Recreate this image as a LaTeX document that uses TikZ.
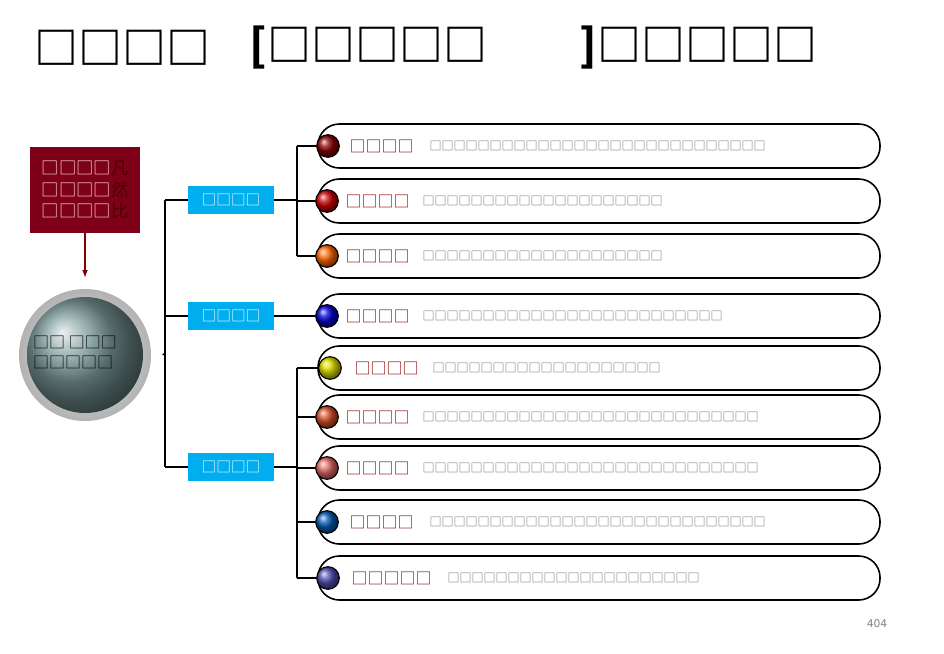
\documentclass[tikz,border=0pt]{standalone}
\usepackage{fontspec}
\setmainfont{DejaVu Sans}
\newfontfamily\cjk{Noto Sans CJK SC}
\definecolor{sky}{HTML}{00AEEF}
\begin{document}
\begin{tikzpicture}[x=0.75pt,y=-0.75pt,
 pill/.style={draw=black,line width=1.2pt,fill=white,rounded corners=16pt},
 ball/.style={circle,draw=black,line width=0.8pt,minimum size=17pt,inner sep=0},
 lab/.style={font=\cjk\fontsize{12}{12}\selectfont,text=red!55!black,anchor=west},
 desc/.style={font=\cjk\fontsize{9}{9}\selectfont,text=gray!80!black,anchor=west},
 bbox/.style={fill=sky,text=white,minimum width=64pt,minimum height=21pt,font=\cjk\fontsize{11}{11}\selectfont,inner sep=0},
 ln/.style={line width=0.9pt}]
\useasboundingbox (0,0) rectangle (944,653);
\node[font=\cjk\fontsize{33}{33}\selectfont\bfseries,anchor=west] (t1) at (30,48) {□□□□};
\node[font=\cjk\fontsize{33}{33}\selectfont\bfseries,anchor=west] (t2) at (245,48) {[□□□□□};
\node[font=\cjk\fontsize{33}{33}\selectfont\bfseries,anchor=west] (t3) at (575,48) {]□□□□□};
% left
\node[fill=red!55!black!90!blue,minimum width=82pt,minimum height=64pt,inner sep=0] (rb) at (85,190) {};
\node[font=\cjk\fontsize{13}{16}\selectfont,align=left,text=pink!70!white] at (85,190) {□□□□\textcolor{red!30!black}{凡}\\□□□□\textcolor{red!30!black}{然}\\□□□□\textcolor{red!30!black}{比}};
\shade[inner color=gray!15,outer color=gray!60] (85,355) circle (66);
\shade[ball color=gray!70!teal!80!white] (85,355) circle (58);
\node[circle,minimum size=116pt,inner sep=0] (c) at (85,355) {};
\node[font=\cjk\fontsize{12}{15}\selectfont,align=left] at (75,352) {□□ □□□\\□□□□□};
\draw[red!50!black,ln,-latex] (rb.south) -- (c.north);
\node[bbox] (b1) at (231,200) {□□□□};
\node[bbox] (b2) at (231,316) {□□□□};
\node[bbox] (b3) at (231,467) {□□□□};
\coordinate (j) at (165,353);
\draw[ln] (c.east) -- (j);
\draw[ln] (165,200) -- (165,467);
\draw[ln] (165,200) -- (b1.west);
\draw[ln] (165,316) -- (b2.west);
\draw[ln] (165,467) -- (b3.west);
% rows
\foreach \y/\bx/\col/\l/\d/\lx/\dx in {
146/328/{red!55!black}/□□□□/□□□□□□□□□□□□□□□□□□□□□□□□□□□□/345/425,
201/327/{red!80!black}/□□□□/□□□□□□□□□□□□□□□□□□□□/341/418,
256/327/{orange!80!red}/□□□□/□□□□□□□□□□□□□□□□□□□□/341/418,
316/327/{blue!85!black}/□□□□/□□□□□□□□□□□□□□□□□□□□□□□□□/341/418,
368/330/{yellow!70!olive}/□□□□/□□□□□□□□□□□□□□□□□□□/350/428,
417/327/{red!40!brown}/□□□□/□□□□□□□□□□□□□□□□□□□□□□□□□□□□/341/418,
468/327/{red!55!white!90!black}/□□□□/□□□□□□□□□□□□□□□□□□□□□□□□□□□□/341/418,
522/327/{blue!50!cyan!70!black}/□□□□/□□□□□□□□□□□□□□□□□□□□□□□□□□□□/345/425,
578/328/{blue!40!gray}/□□□□□/□□□□□□□□□□□□□□□□□□□□□/347/443}{
 \draw[pill] (318,\y-22) rectangle (880,\y+22);
 \node[ball,ball color=\col] (k\y) at (\bx,\y) {};
 \node[lab] at (\lx,\y) {\l};
 \node[desc] at (\dx,\y) {\d};
}
\draw[ln] (b1.east) -- (297,200);
\draw[ln] (297,146) -- (297,256);
\draw[ln] (297,146) -- (k146.west);
\draw[ln] (297,201) -- (k201.west);
\draw[ln] (297,256) -- (k256.west);
\draw[ln] (b2.east) -- (k316.west);
\draw[ln] (b3.east) -- (297,467);
\draw[ln] (297,368) -- (297,578);
\draw[ln] (297,368) -- (k368.west);
\draw[ln] (297,417) -- (k417.west);
\draw[ln] (297,468) -- (k468.west);
\draw[ln] (297,522) -- (k522.west);
\draw[ln] (297,578) -- (k578.west);
\node[text=gray,font=\fontsize{8}{8}\selectfont] (pg) at (877,624) {404};
\end{tikzpicture}
\end{document}
